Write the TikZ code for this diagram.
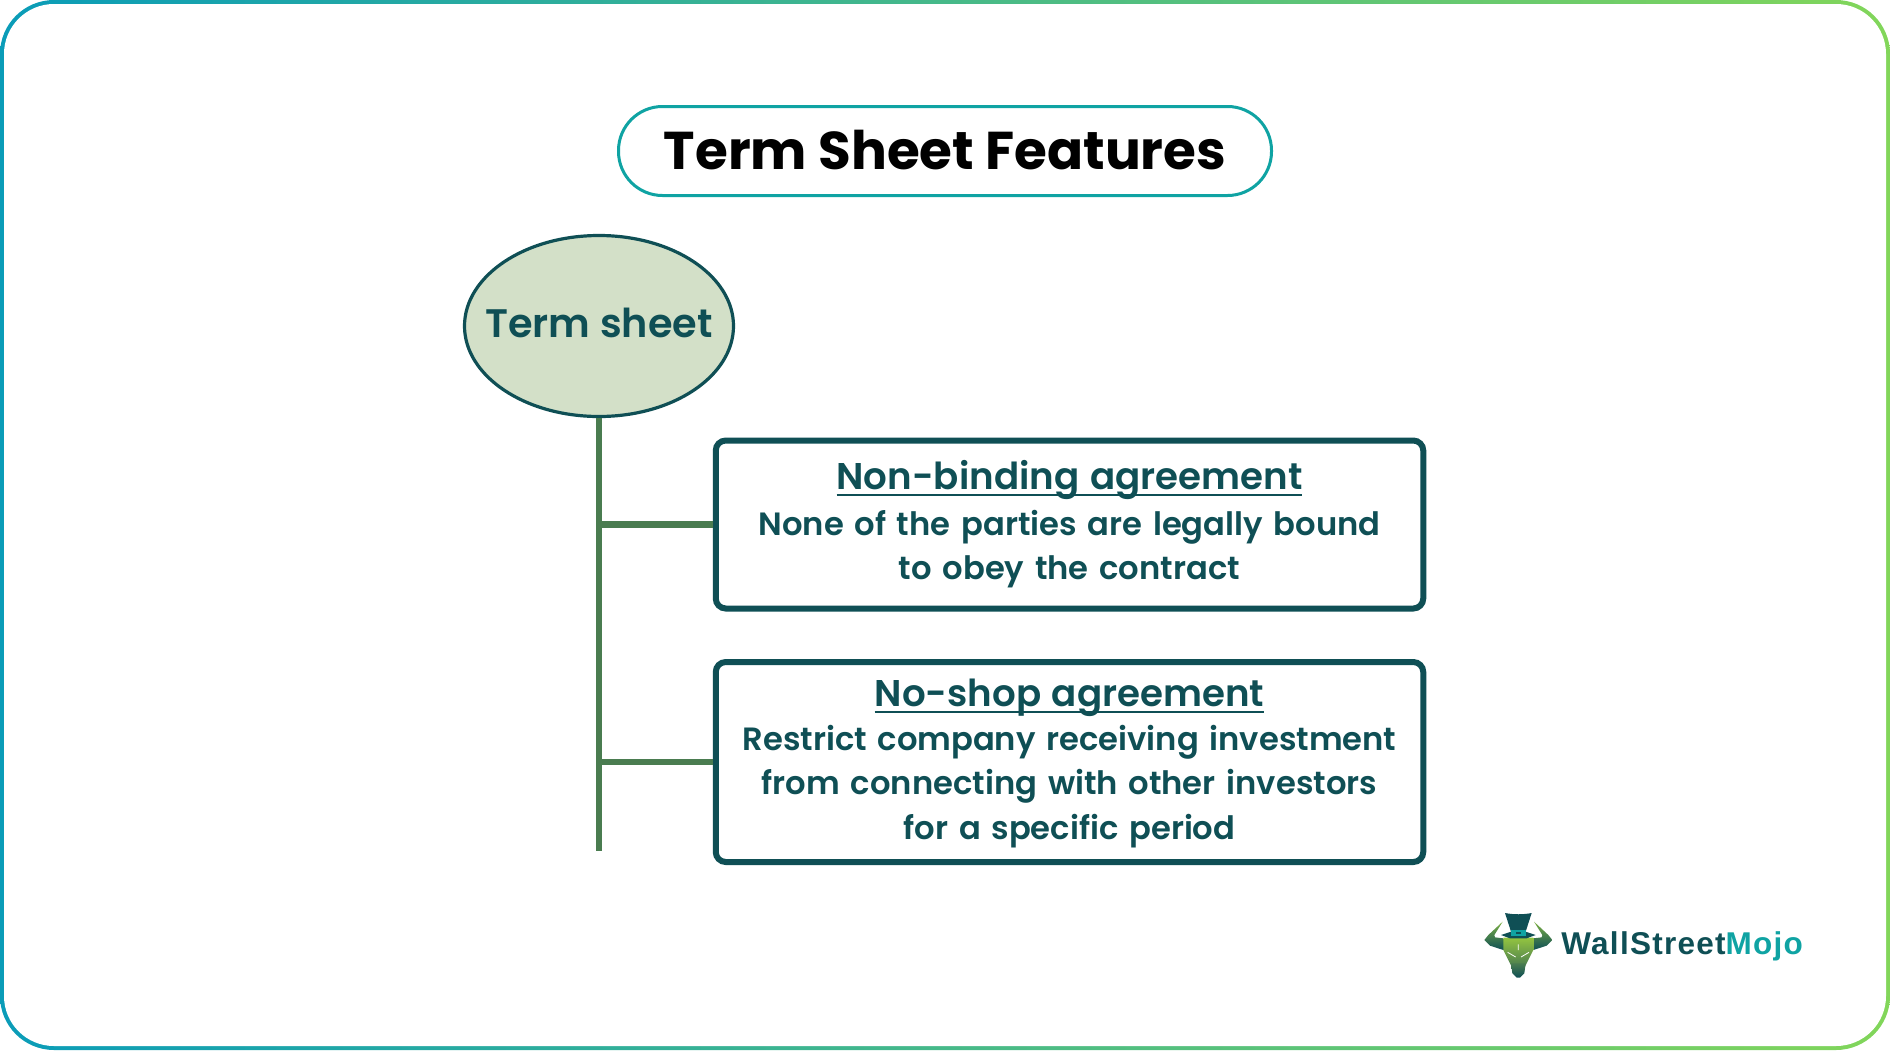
\documentclass[tikz,border=0pt]{standalone}
\usepackage{fontspec}
\setmainfont{Poppins SemiBold}
\newfontfamily\titlefont{Poppins}[UprightFont=* Bold]
\newfontfamily\logofont{Liberation Sans}[UprightFont=* Bold, LetterSpace=4]
\usetikzlibrary{shapes.geometric}
\definecolor{darkteal}{HTML}{0F4F55}
\definecolor{midteal}{HTML}{0FA3A3}
\definecolor{stemgreen}{HTML}{4A7C50}
\definecolor{palegreen}{HTML}{D3E0C8}
\definecolor{edgeleft}{HTML}{0A9CB8}
\definecolor{edgeright}{HTML}{82D65A}
\definecolor{hornlime}{HTML}{7DB043}
\definecolor{headlime}{HTML}{93C440}
\newsavebox{\headbox}
\newcommand{\headline}[1]{\sbox{\headbox}{\fontsize{18.6}{22}\selectfont #1}\rlap{\rule[-3pt]{\wd\headbox}{1pt}}\usebox{\headbox}}
\tikzstyle{pill} = [rectangle, rounded corners=22pt, minimum width=326.5pt, minimum height=44.5pt, text centered, draw=midteal, line width=1.5pt, font=\titlefont\fontsize{26.6}{30}\selectfont]
\tikzstyle{termoval} = [ellipse, inner sep=-14pt, minimum width=134.5pt, minimum height=90.5pt, text centered, draw=darkteal, line width=1.6pt, fill=palegreen, text=darkteal, font=\fontsize{19.9}{24}\selectfont]
\tikzstyle{infobox} = [rectangle, rounded corners=5pt, minimum width=353.75pt, text width=345pt, text centered, draw=darkteal, line width=3pt, text=darkteal, font=\fontsize{16.1}{22.2}\selectfont]
\tikzstyle{branch} = [stemgreen, line width=3.2pt]

\begin{document}
\begin{tikzpicture}[node distance=100pt]
	\useasboundingbox (0,0) rectangle (945pt,-525pt);
	\shade [left color=edgeleft, right color=edgeright, rounded corners=27pt] (0,0) rectangle (945pt,-525pt);
	\fill [white, rounded corners=25pt] (2pt,-2pt) rectangle (943pt,-523pt);

	\node (n0) [pill] at (472.5pt,-75.5pt) {\raisebox{1.6pt}{Term Sheet Features}};
	\node (n1) [termoval, below of=n0, xshift=-173pt, yshift=12.5pt] {\raisebox{3.2pt}{Term sheet}};
	\node (n2) [infobox, minimum height=84pt, right of=n1, xshift=135.25pt, yshift=-99.25pt] {\headline{Non-binding agreement}\\[0.6pt]None of the parties are legally bound\\to obey the contract};
	\node (n3) [infobox, minimum height=100pt, below of=n2, yshift=-18.75pt] {\rule{0pt}{15.3pt}\headline{No-shop agreement}\\[-0.5pt]Restrict company receiving investment\\from connecting with other investors\\for a specific period};
	\coordinate [below of=n1, yshift=-162.5pt] (stemend);

	\draw [branch] (n1) -- (stemend);
	\draw [branch] (n2.west) -- (n2.west -| n1);
	\draw [branch] (n3.west) -- (n3.west -| n1);

	\node (n4) [anchor=base west, inner sep=0pt, font=\logofont\fontsize{15.75}{18}\selectfont, text=darkteal] at (780.5pt,-477pt) {WallStreet\textcolor{midteal}{Mojo}};

	\begin{scope}[shift={(737.5pt,-452.5pt)}, x=1pt/6, y=-1pt/6]
		\shade [top color=hornlime, bottom color=darkteal] (83,50) -- (40,90) -- (28,105) -- (45,122) -- (85,135) -- (85,100) -- (60,97) -- (58,90) -- cycle;
		\shade [top color=hornlime, bottom color=darkteal] (177,50) -- (220,90) -- (232,105) -- (215,122) -- (175,135) -- (175,100) -- (200,97) -- (202,90) -- cycle;
		\shade [top color=headlime, bottom color=stemgreen] (85,98) -- (175,98) -- (175,135) -- (160,165) -- (150,185) -- (110,185) -- (100,165) -- (85,135) -- cycle;
		\shade [top color=stemgreen, bottom color=darkteal] (108,175) -- (152,175) -- (148,205) -- (135,218) -- (125,218) -- (112,205) -- cycle;
		\draw [white, line width=0.4pt] (98,142) -- (122,156) (162,142) -- (138,156) (130,118) -- (130,135);
		\fill [darkteal] (90,24) .. controls (115,29) and (145,29) .. (170,24) -- (152,80) -- (108,80) -- cycle;
		\fill [darkteal] (78,90) -- (108,80) -- (152,80) -- (182,90) -- (155,100) -- (105,100) -- cycle;
		\fill [midteal] (108,76) rectangle (152,92);
		\fill [darkteal] (122,80) rectangle (138,88);
	\end{scope}
\end{tikzpicture}
\end{document}
